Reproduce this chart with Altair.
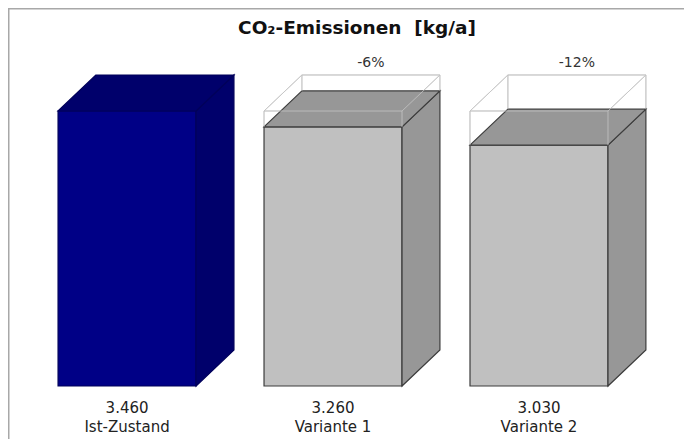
import altair as alt
import pandas as pd

# ---- data ----
categories = ["Ist-Zustand", "Variante 1", "Variante 2"]
values = [3460, 3260, 3030]
value_labels = ["3.460", "3.260", "3.030"]
change_labels = ["", "-6%", "-12%"]
title_text = "CO₂-Emissionen \u00a0[kg/a]"

# ---- styling / 3D geometry (not data) ----
HALF = 0.335      # half width of front face (category units)
DX = 0.184        # depth offset in x (category units)
DY = 453          # depth offset in y (value units)
front_cols = ["#000086", "#c0c0c0", "#c0c0c0"]
shade_cols = ["#00006b", "#979797", "#979797"]
edge_cols = ["#00005a", "#3c3c3c", "#3c3c3c"]
base = values[0]

xs = alt.Scale(domain=[-0.578, 2.704])
ys = alt.Scale(domain=[-667, 4756])

front_rows, side_rows, top_rows, ghost_rows, lab_rows = [], [], [], [], []
for i, (c, v) in enumerate(zip(categories, values)):
    xl, xr = i - HALF, i + HALF
    front_rows.append(dict(bar=c, xl=xl, xr=xr, y0=0, y1=v,
                           fill=front_cols[i], edge=edge_cols[i]))
    side_rows += [dict(bar=c, x=xr, y=v, y2=0, fill=shade_cols[i], edge=edge_cols[i]),
                  dict(bar=c, x=xr + DX, y=v + DY, y2=DY, fill=shade_cols[i], edge=edge_cols[i])]
    top_rows += [dict(bar=c, y=v, x=xl, x2=xr, fill=shade_cols[i], edge=edge_cols[i]),
                 dict(bar=c, y=v + DY, x=xl + DX, x2=xr + DX, fill=shade_cols[i], edge=edge_cols[i])]
    if v < base:
        G = base
        segs = [(xl, xr, G, G), (xl + DX, xr + DX, G + DY, G + DY),
                (xl, xl + DX, G, G + DY), (xr, xr + DX, G, G + DY),
                (xl, xl, G, v), (xr, xr, G, v),
                (xl + DX, xl + DX, G + DY, v + DY), (xr + DX, xr + DX, G + DY, v + DY)]
        for s in segs:
            ghost_rows.append(dict(bar=c, x=s[0], x2=s[1], y=s[2], y2=s[3]))
    lab_rows.append(dict(bar=c, x=i, vlab=value_labels[i], chg=change_labels[i],
                         px=i + DX, py=base + DY))

front_df = pd.DataFrame(front_rows)
side_df = pd.DataFrame(side_rows)
top_df = pd.DataFrame(top_rows)
ghost_df = pd.DataFrame(ghost_rows)
lab_df = pd.DataFrame(lab_rows)

FONT = "DejaVu Sans"

front = alt.Chart(front_df).mark_rect(strokeWidth=1.2).encode(
    x=alt.X("xl:Q", scale=xs, axis=None), x2="xr:Q",
    y=alt.Y("y0:Q", scale=ys, axis=None), y2="y1:Q",
    fill=alt.Fill("fill:N", scale=None), stroke=alt.Stroke("edge:N", scale=None))

side = alt.Chart(side_df).mark_area(orient="vertical", strokeWidth=1.2, interpolate="linear").encode(
    x=alt.X("x:Q", scale=xs, axis=None),
    y=alt.Y("y:Q", scale=ys, axis=None), y2="y2:Q",
    detail="bar:N",
    fill=alt.Fill("fill:N", scale=None), stroke=alt.Stroke("edge:N", scale=None))

top = alt.Chart(top_df).mark_area(orient="horizontal", strokeWidth=1.2, interpolate="linear").encode(
    y=alt.Y("y:Q", scale=ys, axis=None),
    x=alt.X("x:Q", scale=xs, axis=None), x2="x2:Q",
    detail="bar:N",
    fill=alt.Fill("fill:N", scale=None), stroke=alt.Stroke("edge:N", scale=None))

ghost = alt.Chart(ghost_df).mark_rule(color="#c4c4c4", strokeWidth=1, opacity=0.8).encode(
    x=alt.X("x:Q", scale=xs, axis=None), x2="x2:Q",
    y=alt.Y("y:Q", scale=ys, axis=None), y2="y2:Q")

vals = alt.Chart(lab_df).mark_text(font=FONT, fontSize=15, color="#222222", baseline="middle").encode(
    x=alt.X("x:Q", scale=xs, axis=None), y=alt.value(400), text="vlab:N")

cats = alt.Chart(lab_df).mark_text(font=FONT, fontSize=15, color="#222222", baseline="middle").encode(
    x=alt.X("x:Q", scale=xs, axis=None), y=alt.value(419), text="bar:N")

chg = alt.Chart(lab_df).mark_text(font=FONT, fontSize=14, color="#333333", baseline="bottom", dy=-5).encode(
    x=alt.X("px:Q", scale=xs, axis=None), y=alt.Y("py:Q", scale=ys, axis=None), text="chg:N")

title = alt.Chart(pd.DataFrame({"t": [title_text]})).mark_text(
    font=FONT, fontSize=18.5, fontWeight="bold", color="#111111", baseline="alphabetic").encode(
    x=alt.value(349), y=alt.value(26), text="t:N")

frame_left = alt.Chart(pd.DataFrame({"a": [0]})).mark_rule(color="#a8a8a8", strokeWidth=1.5).encode(
    x=alt.value(0.75), y=alt.value(0), y2=alt.value(431))
frame_top = alt.Chart(pd.DataFrame({"a": [0]})).mark_rule(color="#a8a8a8", strokeWidth=1.5).encode(
    x=alt.value(0), x2=alt.value(676), y=alt.value(0.75))

chart = alt.layer(frame_left, frame_top, ghost, front, side, top, ghost, vals, cats, chg, title).properties(
    width=676, height=431, padding=0, autosize=alt.AutoSizeParams(type="none"),
    background="white"
).configure_view(stroke="transparent", strokeWidth=0)

chart.save("out.html", embed_options={"renderer": "svg", "actions": False})
